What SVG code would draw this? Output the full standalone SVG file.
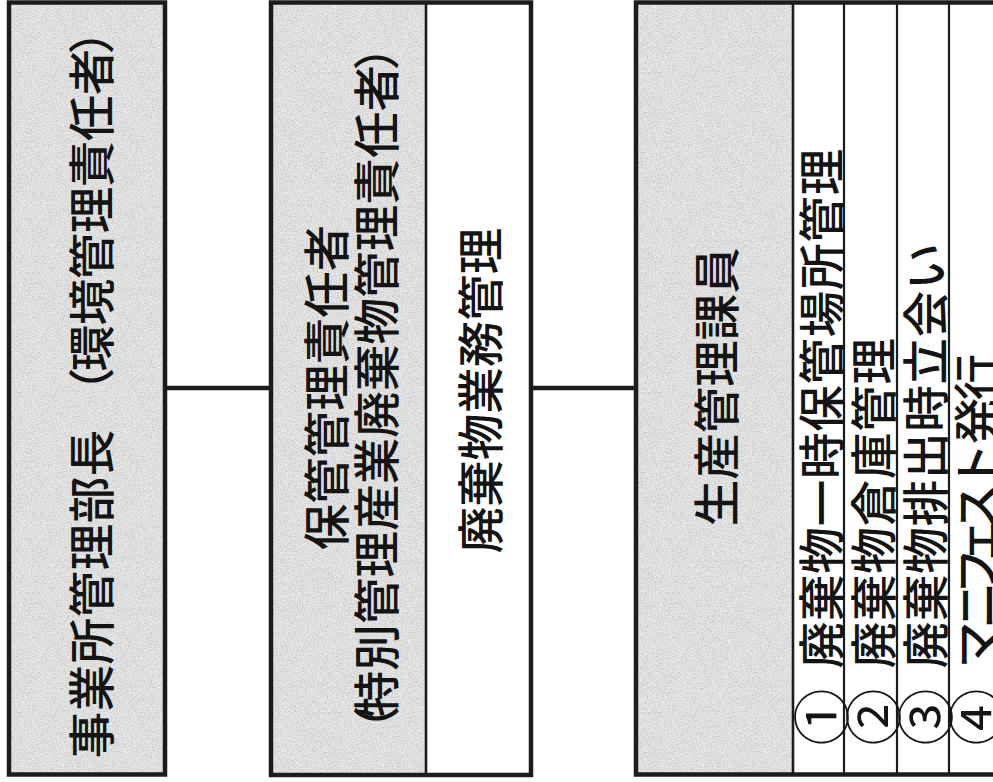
<svg xmlns="http://www.w3.org/2000/svg" width="993" height="782" viewBox="0 0 993 782">
<style>
.shade{fill:#e7e7e7}
.speck{fill:#e7e7e7;filter:url(#noise)}
.white{fill:#ffffff}
.frame{fill:none;stroke:#1c1c1c;stroke-width:4.5}
.div{stroke:#1c1c1c;stroke-width:2.6}
.thin{stroke:#1c1c1c;stroke-width:2.2}
.conn{stroke:#1c1c1c;stroke-width:4.5;fill:none}
.t{font-family:"Noto Sans CJK JP","Noto Sans CJK SC",sans-serif;font-size:46.5px;font-weight:500;fill:#141414;text-anchor:middle;dominant-baseline:central}
.c{font-size:57px;font-weight:400}
</style>
<defs>
<filter id="noise" x="0" y="0" width="100%" height="100%">
<feTurbulence type="fractalNoise" baseFrequency="0.8" numOctaves="2" seed="3" result="n"/>
<feColorMatrix in="n" type="matrix" values="0 0 0 0 0.55  0 0 0 0 0.55  0 0 0 0 0.55  0 0 0 -2.2 1.35" result="dots"/>
<feComposite in="dots" in2="SourceGraphic" operator="in" result="d2"/>
<feMerge><feMergeNode in="SourceGraphic"/><feMergeNode in="d2"/></feMerge>
</filter>
</defs>
<rect x="0" y="0" width="993" height="782" fill="#ffffff"/>
<g id="connectors">
<line class="conn" x1="165" y1="388" x2="271" y2="388"/>
<line class="conn" x1="531" y1="388" x2="636" y2="388"/>
</g>
<g id="node-director">
<rect class="speck" x="9" y="2.5" width="156" height="772"/>
<rect class="frame" x="9" y="2.5" width="156" height="772"/>
<text class="t" transform="rotate(-90)" y="88" x="-735 -688 -641 -594 -547 -500 -453 -420 -391 -348 -302 -256 -210 -164 -118 -72 -31">事業所管理部長 （環境管理責任者）</text>
</g>
<g id="node-storage-manager">
<rect class="speck" x="271" y="2.5" width="155" height="772.5"/>
<rect class="white" x="426" y="2.5" width="105" height="772.5"/>
<line class="div" x1="426" y1="2.5" x2="426" y2="775"/>
<rect class="frame" x="271" y="2.5" width="260" height="772.5"/>
<text class="t" transform="rotate(-90)" y="323" x="-527 -480.5 -434 -387.5 -341 -294.5 -248">保管管理責任者</text>
<text class="t" transform="rotate(-90)" y="373" x="-729 -694 -647.4 -600.8 -554.2 -507.6 -461 -414.4 -367.8 -321.2 -274.6 -228 -181.4 -134.8 -88.2 -47">（特別管理産業廃棄物管理責任者）</text>
<text class="t" transform="rotate(-90)" y="477" x="-530 -483.5 -437 -390.5 -344 -297.5 -251">廃棄物業務管理</text>
</g>
<g id="node-production">
<rect class="speck" x="636" y="2.5" width="157" height="772"/>
<rect class="white" x="793" y="2.5" width="210" height="772"/>
<line class="div" x1="793" y1="2.5" x2="793" y2="774.5"/>
<line class="thin" x1="844" y1="2.5" x2="844" y2="774.5"/>
<line class="thin" x1="897" y1="2.5" x2="897" y2="774.5"/>
<line class="thin" x1="949" y1="2.5" x2="949" y2="774.5"/>
<rect class="frame" x="636" y="2.5" width="420" height="772"/>
<text class="t" transform="rotate(-90)" y="713" x="-503 -456.5 -410 -363.5 -317 -270.5">生産管理課員</text>
<text class="t" transform="rotate(-90)" y="818"><tspan class="c" x="-717">①</tspan><tspan x="-645 -597.7 -550.4 -503.1 -455.8 -408.5 -361.2 -313.9 -266.6 -219.3 -172">廃棄物一時保管場所管理</tspan></text>
<text class="t" transform="rotate(-90)" y="870"><tspan class="c" x="-717">②</tspan><tspan x="-645 -597.7 -550.4 -503.1 -455.8 -408.5 -361.2">廃棄物倉庫管理</tspan></text>
<text class="t" transform="rotate(-90)" y="922"><tspan class="c" x="-717">③</tspan><tspan x="-645 -597.7 -550.4 -503.1 -455.8 -408.5 -361.2 -313.9 -266.6">廃棄物排出時立会い</tspan></text>
<text class="t" transform="rotate(-90)" y="973"><tspan class="c" x="-717">④</tspan><tspan x="-645 -605 -571 -541 -507 -466 -421 -377">マニフェスト発行</tspan></text>
</g>
</svg>
